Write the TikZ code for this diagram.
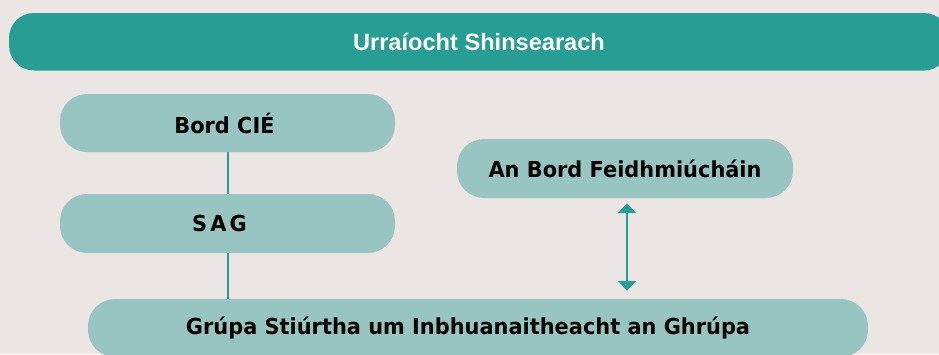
\documentclass[tikz,border=0pt]{standalone}
\usepackage{fontspec}
\setmainfont{DejaVu Sans}
\newfontfamily\headfont{Liberation Sans}
\definecolor{orgbg}{RGB}{235,230,227}
\definecolor{orgteal}{RGB}{40,157,148}
\definecolor{orglight}{RGB}{152,197,194}
\usetikzlibrary{arrows.meta,positioning}

\begin{document}
\begin{tikzpicture}[x=1pt,y=-1pt,
    box/.style={fill=orglight,rounded corners=27pt,inner sep=0pt,minimum height=58pt,
      font=\fontsize{22}{26}\selectfont\bfseries\addfontfeature{FakeStretch=0.95}},
    link/.style={draw=orgteal,line width=2pt}]
  % Canvas
  \clip (0,0) rectangle (939,354);
  \fill[orgbg] (0,0) rectangle (939,354);
  % Top bar
  \node[box,fill=orgteal,minimum width=940pt,minimum height=57.5pt,text=white,rounded corners=25pt,
    font=\headfont\fontsize{23.6}{28}\selectfont\bfseries] (senior) at (479,41.75) {Urraíocht Shinsearach};
  % Boxes
  \node[box,minimum width=335pt] (cie) at (227.5,123) {Bord CIÉ\hspace*{6pt}};
  \node[box,minimum width=335pt,minimum height=59pt] (sag) at (227.5,223.5)
    {\addfontfeature{LetterSpace=14}SAG\hspace*{16pt}};
  \node[box,minimum width=336pt,minimum height=59pt] (exec) at (625,168.5) {An Bord Feidhmiúcháin};
  \node[box,minimum width=780pt] (group) at (478,328)
    {Grúpa Stiúrtha um Inbhuanaitheacht an Ghrúpa\hspace*{20pt}};
  % Links
  \draw[link] (cie) -- (sag);
  \draw[link] (sag) -- (sag |- group.north);
  \draw[orgteal,line width=2.5pt,{Triangle[width=18pt,length=10pt]}-{Triangle[width=18pt,length=10pt]},
    shorten <=5pt,shorten >=8pt] ([xshift=2pt]exec.south) -- ([xshift=2pt]exec.south |- group.north);
\end{tikzpicture}
\end{document}
